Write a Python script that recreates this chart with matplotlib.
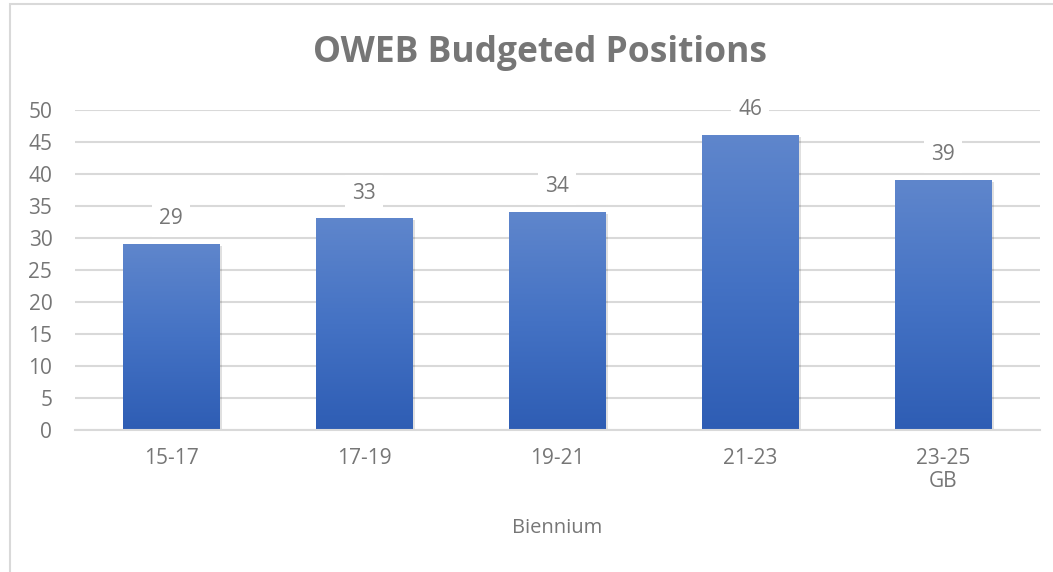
import numpy as np
import matplotlib.pyplot as plt
from matplotlib.patches import Rectangle
from matplotlib.colors import LinearSegmentedColormap

# Dados do gráfico
bienios = ["15-17", "17-19", "19-21", "21-23", "23-25\nGB"]
posicoes = [29, 33, 34, 46, 39]
yticks = list(range(0, 51, 5))

cinza = "#767676"
cinza_grade = "#d9d9d9"
gradiente = LinearSegmentedColormap.from_list("azul", ["#2e5db4", "#4472c4", "#5f86cc"])

plt.rcParams['font.family'] = ['Open Sans', 'DejaVu Sans']

fig = plt.figure(figsize=(10.53, 5.72), dpi=100)
ax = fig.add_axes([0.0708, 0.2483, 0.9165, 0.5594])

# Moldura do gráfico (só aparecem a borda esquerda e a de cima)
fig.patches.append(Rectangle((10 / 1053, -0.2), 1.2, 1.193, transform=fig.transFigure,
                             fill=False, edgecolor=cinza_grade, linewidth=1.5))

x = np.arange(len(bienios))
largura = 0.5
barras = ax.bar(x, posicoes, width=largura, color="none", zorder=3)

# Preenchimento em gradiente e sombra
grad = np.linspace(0, 1, 256).reshape(-1, 1)
for b in barras:
    x0, y0 = b.get_x(), b.get_y()
    w, h = b.get_width(), b.get_height()
    sombra = Rectangle((x0 + 0.012, y0 - 0.25), w, h, facecolor="#000000", alpha=0.12,
                       edgecolor="none", zorder=2)
    ax.add_patch(sombra)
    ax.imshow(grad, cmap=gradiente, aspect="auto", origin="lower",
              extent=(x0, x0 + w, y0, y0 + h), zorder=3)

for xi, v in zip(x, posicoes):
    ax.text(xi, v + 4, str(v), ha="center", va="center", fontsize=15, color=cinza, zorder=4,
            bbox=dict(boxstyle="square,pad=0.35", facecolor="white", edgecolor="none"))

ax.set_xlim(-0.5, len(bienios) - 0.5)
ax.set_ylim(0, 50)
ax.set_yticks(yticks)
ax.set_xticks(x)
ax.set_xticklabels(bienios, linespacing=1.1)
ax.yaxis.grid(True, color=cinza_grade, linewidth=1.5, zorder=0)
ax.set_axisbelow(True)
for lado in ["top", "right", "left"]:
    ax.spines[lado].set_visible(False)
ax.spines["bottom"].set_color(cinza_grade)
ax.spines["bottom"].set_linewidth(1.5)
ax.spines["bottom"].set_zorder(5)
ax.tick_params(axis="both", length=0, labelsize=15, labelcolor=cinza)
ax.tick_params(axis="y", pad=16)
ax.tick_params(axis="x", pad=13)
ax.set_xlabel("Biennium", fontsize=14.5, color=cinza, labelpad=19)

fig.text(0.513, 0.907, "OWEB Budgeted Positions", ha="center", va="center",
         fontsize=25.5, fontweight="bold", color=cinza)

fig.savefig("out.png", dpi=100)
